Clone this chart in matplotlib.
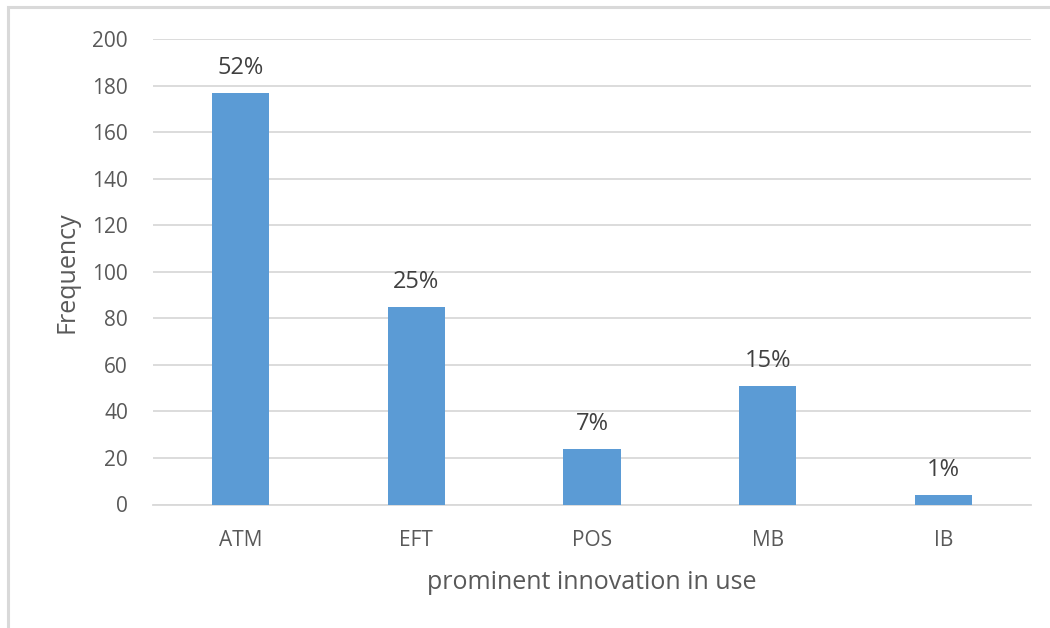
import matplotlib
matplotlib.use("Agg")
import matplotlib.pyplot as plt
from matplotlib.patches import Rectangle

categories = ["ATM", "EFT", "POS", "MB", "IB"]
frequency = [177, 85, 24, 51, 4]
percent_labels = ["52%", "25%", "7%", "15%", "1%"]
y_ticks = [0, 20, 40, 60, 80, 100, 120, 140, 160, 180, 200]

plt.rcParams["font.family"] = ["Open Sans", "DejaVu Sans"]

W, H = 1050, 628
fig = plt.figure(figsize=(W / 100, H / 100), dpi=100)
fig.patch.set_facecolor("white")

# outer chart frame (runs off the right and bottom edges)
fig.patches.append(Rectangle((8 / W, -0.05), 1.2, 1 - 7 / H + 0.05,
                             transform=fig.transFigure, fill=False,
                             edgecolor="#d9d9d9", linewidth=2.2))

ax = fig.add_axes([153 / W, 1 - 504.5 / H, (1031 - 153) / W, (504.5 - 39) / H])
x = range(len(categories))
bars = ax.bar(x, frequency, width=0.325, color="#5b9bd5", zorder=3)

ax.set_xlim(-0.5, len(categories) - 0.5)
ax.set_ylim(0, 200)
ax.set_yticks(y_ticks)
ax.set_xticks(list(x))
ax.set_xticklabels(categories)

ax.grid(axis="y", color="#d9d9d9", linewidth=1.3, zorder=0)
for side in ("top", "right", "left"):
    ax.spines[side].set_visible(False)
ax.spines["bottom"].set_color("#d9d9d9")
ax.spines["bottom"].set_linewidth(1.3)
ax.tick_params(axis="both", length=0, labelsize=15, labelcolor="#595959")
ax.tick_params(axis="y", pad=18)
ax.tick_params(axis="x", pad=18)

for b, lab in zip(bars, percent_labels):
    ax.annotate(lab, (b.get_x() + b.get_width() / 2, b.get_height()),
                xytext=(0, 18), textcoords="offset points",
                ha="center", va="center", fontsize=17, color="#404040")

ax.set_ylabel("Frequency", fontsize=18, color="#595959", labelpad=9)
ax.set_xlabel("prominent innovation in use", fontsize=18, color="#595959", labelpad=14)

fig.savefig("out.png", dpi=100, facecolor="white")
